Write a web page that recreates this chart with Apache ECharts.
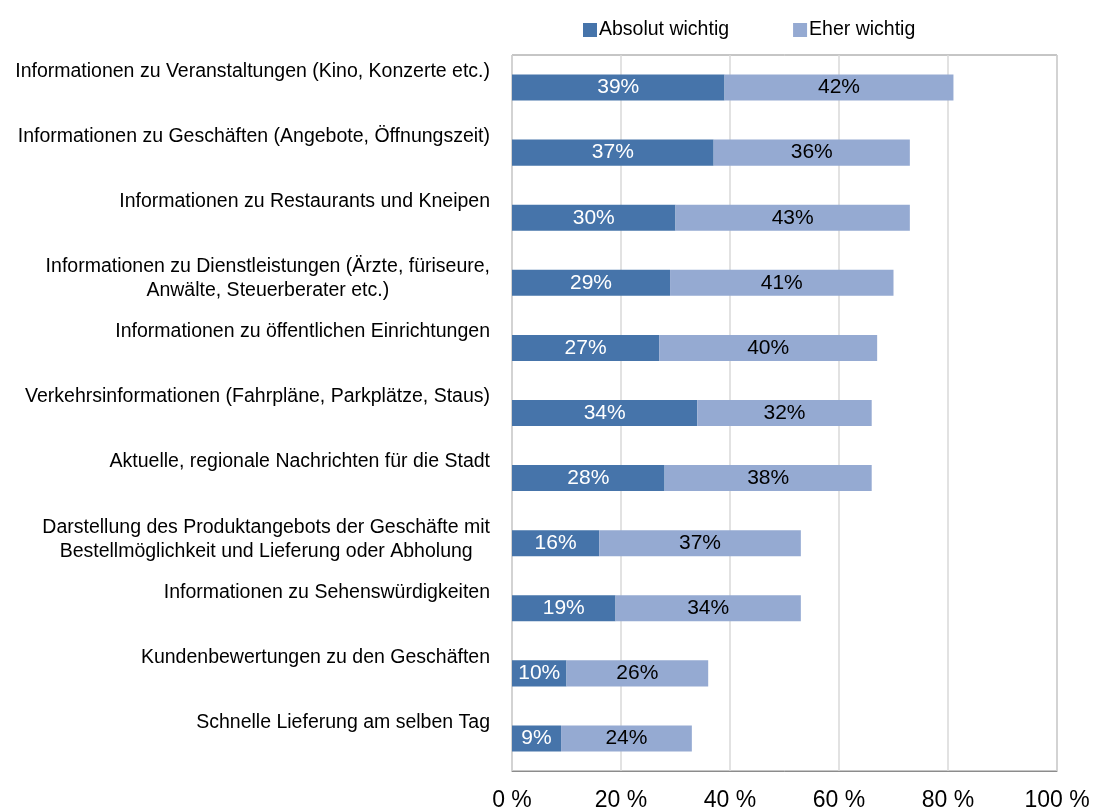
<!DOCTYPE html>
<html>
<head>
<meta charset="utf-8">
<script src="https://cdn.jsdelivr.net/npm/echarts@6/dist/echarts.min.js"></script>
<style>
  html, body { margin: 0; padding: 0; background: #fff; }
  #main { width: 1094px; height: 809px; }
</style>
</head>
<body>
<div id="main"></div>
<script type="text/javascript">
    var categories = [
        'Informationen zu Veranstaltungen (Kino, Konzerte etc.)',
        'Informationen zu Geschäften (Angebote, Öffnungszeit)',
        'Informationen zu Restaurants und Kneipen',
        'Informationen zu Dienstleistungen (Ärzte, füriseure,\nAnwälte, Steuerberater etc.)',
        'Informationen zu öffentlichen Einrichtungen',
        'Verkehrsinformationen (Fahrpläne, Parkplätze, Staus)',
        'Aktuelle, regionale Nachrichten für die Stadt',
        'Darstellung des Produktangebots der Geschäfte mit\nBestellmöglichkeit und Lieferung oder Abholung',
        'Informationen zu Sehenswürdigkeiten',
        'Kundenbewertungen zu den Geschäften',
        'Schnelle Lieferung am selben Tag'
    ];
    var absolutWichtig = [39, 37, 30, 29, 27, 34, 28, 16, 19, 10, 9];
    var eherWichtig = [42, 36, 43, 41, 40, 32, 38, 37, 34, 26, 24];
    var seriesNames = ['Absolut wichtig', 'Eher wichtig'];

    var font = '"Liberation Sans", Arial, sans-serif';
    var myChart = echarts.init(document.getElementById('main'));

    myChart.setOption({
        animation: false,
        textStyle: {fontFamily: font},
        color: ['#4674AA', '#95AAD2'],
        legend: {
            data: seriesNames,
            left: 578,
            top: 15,
            itemWidth: 14,
            itemHeight: 14,
            itemGap: 64,
            icon: 'rect',
            textStyle: {fontSize: 19.5, color: '#000', fontFamily: font, padding: [0, 0, 0, -3]}
        },
        grid: [
            // plot area
            {left: 512, right: 37, top: 55, bottom: 38, outerBoundsMode: 'none',
             show: true, borderColor: '#8c8c8c', borderWidth: 1},
            // same area moved up, only used for the category labels
            {left: 512, right: 37, top: 27, bottom: 66, outerBoundsMode: 'none'}
        ],
        xAxis: [
            {
                type: 'value', gridIndex: 0, min: 0, max: 100, interval: 20,
                axisLine: {show: true, lineStyle: {color: '#8c8c8c'}},
                axisTick: {show: false},
                splitLine: {show: true, lineStyle: {color: '#d9d9d9', width: 1.5}},
                axisLabel: {formatter: '{value} %', fontSize: 23, color: '#000', margin: 18, fontFamily: font}
            },
            {type: 'value', gridIndex: 1, min: 0, max: 100, show: false}
        ],
        yAxis: [
            {
                type: 'category', gridIndex: 0, data: categories, inverse: true,
                axisLine: {show: false}, axisTick: {show: false}, axisLabel: {show: false}
            },
            {
                type: 'category', gridIndex: 1, data: categories, inverse: true,
                axisLine: {show: false}, axisTick: {show: false}, splitLine: {show: false},
                axisLabel: {
                    margin: 22,
                    verticalAlign: 'top',
                    align: 'right',
                    formatter: function (v) {
                        return v.split('\n').map(function (s) { return '{c|' + s + '}'; }).join('\n');
                    },
                    rich: {
                        c: {fontSize: 19.5, lineHeight: 24, color: '#000', align: 'center', fontFamily: font}
                    }
                }
            }
        ],
        series: [
            {
                name: seriesNames[0], type: 'bar', stack: 'total', barWidth: '40%',
                xAxisIndex: 0, yAxisIndex: 0,
                data: absolutWichtig,
                label: {show: true, position: 'inside', formatter: '{c}%', color: '#fff', fontSize: 21, fontFamily: font}
            },
            {
                name: seriesNames[1], type: 'bar', stack: 'total', barWidth: '40%',
                xAxisIndex: 0, yAxisIndex: 0,
                data: eherWichtig,
                label: {show: true, position: 'inside', formatter: '{c}%', color: '#000', fontSize: 21, fontFamily: font}
            }
        ]
    });
</script>
</body>
</html>
